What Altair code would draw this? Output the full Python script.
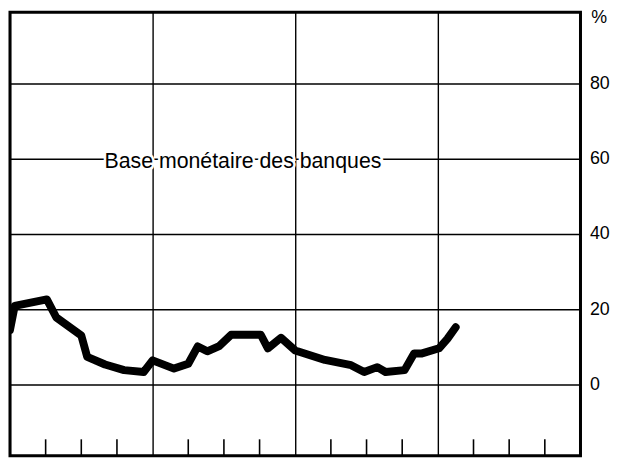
import altair as alt
import pandas as pd

# Line data (months from start of the 4-year span, % change)
months = [0, 0.4, 3.1, 3.9, 6.0, 6.5, 8.0, 9.6, 11.25, 12.0, 13.8, 15.0, 15.8,
          16.6, 17.6, 18.6, 21.1, 21.7, 22.8, 24.0, 26.5, 28.7, 29.8, 30.9,
          31.6, 33.2, 34.0, 34.6, 36.1, 36.8, 37.5]
values = [14.5, 20.9, 22.6, 17.8, 13.0, 7.3, 5.3, 3.8, 3.3, 6.4, 4.2, 5.5, 10.1,
          8.8, 10.2, 13.2, 13.2, 9.6, 12.4, 9.0, 6.5, 5.1, 3.3, 4.6,
          3.3, 3.8, 8.2, 8.2, 9.6, 12.1, 15.2]

minor_ticks = [3, 6, 9, 15, 18, 21, 27, 30, 33, 39, 42, 45]
y_ticks = [0, 20, 40, 60, 80]
label_text = "Base monétaire des banques"

W, H = 576, 448
FONT = "Liberation Sans"

df = pd.DataFrame({"m": months, "v": values})
ticks_df = pd.DataFrame({"m": minor_ticks})

xs = alt.Scale(domain=[0, 48], nice=False, zero=False)
ys = alt.Scale(domain=[-19, 99], nice=False, zero=False)

line = alt.Chart(df).mark_line(color="black", strokeWidth=8, strokeJoin="round",
                               strokeCap="round", clip=True).encode(
    x=alt.X("m:Q", scale=xs,
            axis=alt.Axis(values=[0, 12, 24, 36, 48], grid=True, gridColor="black",
                          gridWidth=1.4, gridOpacity=1, labels=False, ticks=False,
                          domain=False, title=None)),
    y=alt.Y("v:Q", scale=ys,
            axis=alt.Axis(orient="right", values=y_ticks, grid=True, gridColor="black",
                          gridWidth=1.4, gridOpacity=1, ticks=False, domain=False,
                          labelPadding=9, labelFontSize=18, labelFont=FONT,
                          labelColor="black", title=None)),
)

tick_rules = alt.Chart(ticks_df).mark_rule(color="black", strokeWidth=1.6).encode(
    x=alt.X("m:Q", scale=xs),
    y=alt.datum(-19),
    y2=alt.datum(-14.6),
)

label_df = pd.DataFrame({"m": [19.6], "v": [57.6], "t": [label_text]})
halo = alt.Chart(label_df).mark_text(font=FONT, fontSize=21.5, align="center",
                                     baseline="alphabetic", color="white",
                                     stroke="white", strokeWidth=5).encode(
    x=alt.X("m:Q", scale=xs), y=alt.Y("v:Q", scale=ys), text="t:N")
label = alt.Chart(label_df).mark_text(font=FONT, fontSize=21.5, align="center",
                                      baseline="alphabetic", color="black").encode(
    x=alt.X("m:Q", scale=xs), y=alt.Y("v:Q", scale=ys), text="t:N")

pct = alt.Chart(pd.DataFrame({"v": [97.3], "t": ["%"]})).mark_text(
    font=FONT, fontSize=18, align="left", baseline="middle", color="black").encode(
    x=alt.value(587), y=alt.Y("v:Q", scale=ys), text="t:N")

chart = alt.layer(line, tick_rules, halo, label, pct).properties(
    width=W, height=H,
    background="white",
    autosize=alt.AutoSizeParams(type="none"),
    padding={"left": 2, "top": 2, "right": 50, "bottom": 2},
).configure_view(stroke="black", strokeWidth=3)

chart.save("out.html", embed_options={"renderer": "svg", "actions": False})
